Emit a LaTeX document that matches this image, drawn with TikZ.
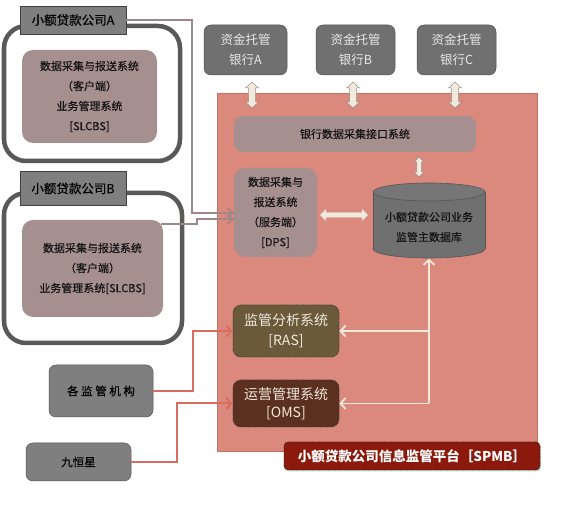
\documentclass[tikz,border=0pt]{standalone}
\usepackage{fontspec}
\setmainfont{Noto Sans CJK SC}
\newfontfamily\mysemibold{Noto Sans CJK SC}[FakeBold=0.35]
\usetikzlibrary{arrows.meta,shadows}
\definecolor{mauve}{RGB}{166,143,143}
\definecolor{outer}{RGB}{89,89,89}
\definecolor{lblgray}{RGB}{127,127,127}
\definecolor{lbldark}{RGB}{64,64,64}
\definecolor{bankgray}{RGB}{112,112,112}
\definecolor{bankdark}{RGB}{80,80,80}
\definecolor{banktext}{RGB}{232,232,232}
\definecolor{salmon}{RGB}{219,136,125}
\definecolor{salmonedge}{RGB}{196,112,100}
\definecolor{rasfill}{RGB}{107,90,58}
\definecolor{omsfill}{RGB}{92,48,32}
\definecolor{titlered}{RGB}{140,26,12}
\definecolor{cream}{RGB}{240,233,220}
\definecolor{creamedge}{RGB}{150,145,135}
\definecolor{mauveline}{RGB}{160,135,135}
\definecolor{redline}{RGB}{217,108,94}
\definecolor{dbgray}{RGB}{112,112,112}
\definecolor{dbtop}{RGB}{118,118,118}
\definecolor{dbline}{RGB}{85,85,85}
\definecolor{darktext}{RGB}{20,20,20}
% vertical double block arrow: x, top y, bottom y, shaft half, head half, head length
\newcommand{\myvarrow}[7]{%
  \filldraw[#7] (#1-#4,#2+#6) -- (#1-#5,#2+#6) -- (#1,#2) -- (#1+#5,#2+#6) -- (#1+#4,#2+#6)
    -- (#1+#4,#3-#6) -- (#1+#5,#3-#6) -- (#1,#3) -- (#1-#5,#3-#6) -- (#1-#4,#3-#6) -- cycle;}
% horizontal double block arrow: y, left x, right x, shaft half, head half, head length
\newcommand{\myharrow}[7]{%
  \filldraw[#7] (#2+#6,#1-#4) -- (#2+#6,#1-#5) -- (#2,#1) -- (#2+#6,#1+#5) -- (#2+#6,#1+#4)
    -- (#3-#6,#1+#4) -- (#3-#6,#1+#5) -- (#3,#1) -- (#3-#6,#1-#5) -- (#3-#6,#1-#4) -- cycle;}
\begin{document}
\begin{tikzpicture}[x=1pt,y=-1pt,
  base/.style={inner sep=0pt, align=center, text=darktext, font=\mysemibold\fontsize{11}{20}\selectfont},
  grouprect/.style={draw=outer, line width=4.5pt, rounded corners=22pt},
  innerbox/.style={base, fill=mauve, rounded corners=11pt},
  labelbox/.style={base, fill=lblgray, draw=lbldark, line width=0.6pt, text=black, font=\mysemibold\fontsize{12.5}{14}\selectfont},
  bank/.style={base, fill=bankgray, draw=bankdark, line width=0.5pt, rounded corners=7pt, text=banktext, minimum height=50pt, font=\fontsize{12.5}{20}\selectfont},
  graybox/.style={base, fill=lblgray, draw=bankdark, line width=0.5pt, rounded corners=7pt, text=black, font=\mysemibold\fontsize{11.5}{20}\selectfont},
  sysbox/.style={base, rounded corners=8pt, draw=black!80, densely dotted, line width=0.8pt, text=cream, minimum width=106pt, font=\fontsize{14}{20}\selectfont},
  blockarr/.style={fill=cream, draw=creamedge, line width=0.5pt},
  blockarrw/.style={fill=cream, draw=cream!85!black, line width=0.4pt},
  mline/.style={draw=mauveline, line width=1.6pt, -{Straight Barb[length=5pt,width=10pt]}},
  rline/.style={draw=redline, line width=2pt, -{Straight Barb[length=5pt,width=11pt]}},
  cline/.style={draw=cream, line width=1.8pt},
  carrow/.style={cline, -{Straight Barb[length=5pt,width=11pt]}}
]
\useasboundingbox (0,0) rectangle (574,505);

% platform background
\node[fill=salmon, draw=salmonedge, line width=0.6pt, minimum width=320pt, minimum height=358pt, inner sep=0pt] (pink) at (377,272) {};

% company groups
\node[grouprect, minimum width=176pt, minimum height=135pt] (grpA) at (92,93.5) {};
\node[grouprect, minimum width=178pt, minimum height=150pt] (grpB) at (93,268) {};
\node[labelbox, minimum width=106pt, minimum height=28pt] (lblA) at (73,20) {小额贷款公司A};
\node[labelbox, minimum width=106pt, minimum height=34pt] (lblB) at (73,188.5) {小额贷款公司B};
\node[innerbox, minimum width=135pt, minimum height=93pt] (inA) at (89.5,96.5) {数据采集与报送系统\\（客户端）\\业务管理系统\\{[SLCBS]}};
\node[innerbox, minimum width=141pt, minimum height=97pt] (inB) at (92.5,268.5) {数据采集与报送系统\\（客户端）\\业务管理系统[SLCBS]};

% banks
\node[bank, minimum width=83pt] (bankA) at (245.5,50) {资金托管\\银行A};
\node[bank, minimum width=79pt] (bankB) at (355.5,50) {资金托管\\银行B};
\node[bank, minimum width=79pt] (bankC) at (456.5,50) {资金托管\\银行C};

% inner systems
\node[innerbox, rounded corners=9pt, minimum width=242pt, minimum height=36pt] (iface) at (355,134) {银行数据采集接口系统};
\node[innerbox, minimum width=83pt, minimum height=89pt] (dps) at (275.5,212.5) {数据采集与\\报送系统\\（服务端）\\{[DPS]}};

% database cylinder
\filldraw[fill=dbgray, draw=dbline, line width=0.6pt] (429,249) ellipse [x radius=56pt, y radius=9pt];
\fill[dbgray] (373,192) rectangle (485,249);
\draw[dbline, line width=0.6pt] (373,192) -- (373,249) (485,192) -- (485,249);
\filldraw[fill=dbtop, draw=dbline, line width=0.6pt] (429,192) ellipse [x radius=56pt, y radius=9pt];
\node[inner sep=0pt, minimum width=112pt, minimum height=76pt] (db) at (429,220.5) {};
\node[base] (dbtext) at (429,227) {小额贷款公司业务\\监管主数据库};

% systems
\node[sysbox, fill=rasfill, minimum height=52pt] (ras) at (286,331) {监管分析系统\\{[RAS]}};
\node[sysbox, fill=omsfill, minimum height=47pt, font=\fontsize{14}{18}\selectfont] (oms) at (286,403.5) {运营管理系统\\{[OMS]}};

% external
\node[graybox, minimum width=104pt, minimum height=52pt] (reg) at (101,391) {各 监 管 机 构};
\node[graybox, minimum width=105pt, minimum height=38pt] (jhx) at (78.5,462) {九恒星};

% title
\node[base, fill=titlered, draw=black!85, densely dotted, line width=0.8pt, rounded corners=4pt, text=white, minimum width=256pt, minimum height=28pt, font=\fontsize{13.5}{16}\selectfont\bfseries, drop shadow={opacity=0.35, shadow xshift=1pt, shadow yshift=-1.5pt}] (title) at (412,456) {小额贷款公司信息监管平台［SPMB］};

% block arrows (bank <-> platform, interface <-> database, DPS <-> database)
\myvarrow{252}{82}{108}{3.5}{6.5}{6}{blockarr}
\myvarrow{353}{82}{108}{3.5}{6.5}{6}{blockarr}
\myvarrow{455}{82}{108}{3.5}{6.5}{6}{blockarr}
\myvarrow{419}{157}{177}{2.5}{5}{5}{blockarr}
\myharrow{215}{320}{368}{2.5}{6}{6}{blockarrw}

% connectors from companies
\coordinate (aBend) at (192,20);
\coordinate (aDown) at (192,213);
\coordinate (bStart) at (161,224);
\coordinate (bBend) at (197,224);
\coordinate (bUp) at (197,219);
\draw[mline] (lblA.east) -- (aBend) -- (aDown) -- (dps.west |- aDown);
\draw[mline] (bStart) -- (bBend) -- (bUp) -- (dps.west |- bUp);

% connectors from database
\coordinate (jR) at (429,331);
\coordinate (jO) at (429,403.5);
\draw[carrow] (jO) -- (db.south);
\draw[carrow] (jR) -- (ras.east);
\draw[carrow] (jO) -- (oms.east);

% external connectors
\coordinate (rBend) at (193,391);
\coordinate (rUp) at (193,331);
\coordinate (jBend) at (177,462);
\coordinate (jUp) at (177,403.5);
\draw[rline] (reg.east) -- (rBend) -- (rUp) -- (ras.west);
\draw[rline] (jhx.east) -- (jBend) -- (jUp) -- (oms.west);
\end{tikzpicture}
\end{document}
